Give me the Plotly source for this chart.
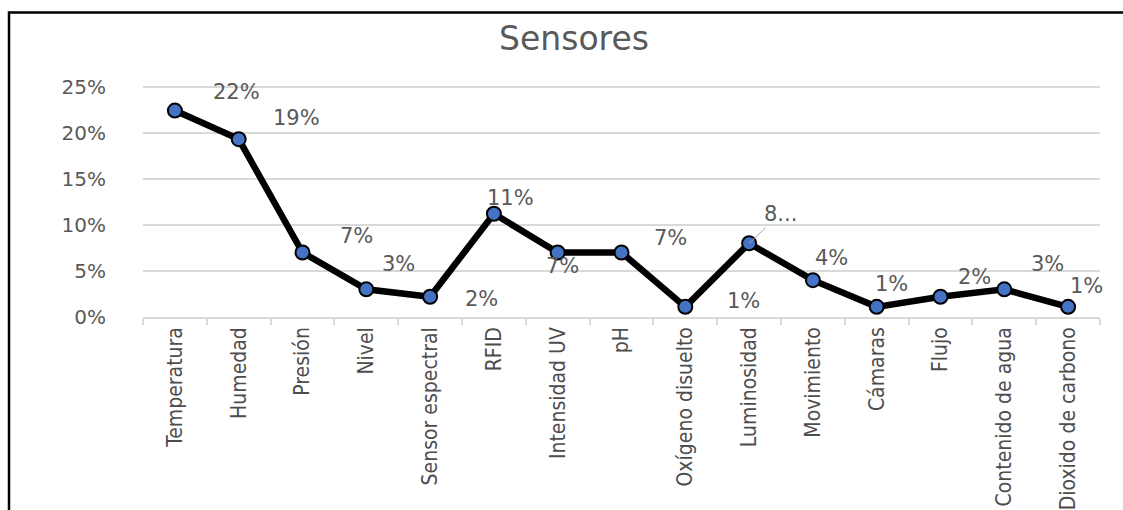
import plotly.graph_objects as go

categories = ["Temperatura", "Humedad", "Presión", "Nivel", "Sensor espectral", "RFID",
              "Intensidad UV", "pH", "Oxígeno disuelto", "Luminosidad", "Movimiento",
              "Cámaras", "Flujo", "Contenido de agua", "Dioxido de carbono"]
values = [22.4, 19.3, 7.0, 3.0, 2.2, 11.2, 7.0, 7.0, 1.1, 8.0, 4.0, 1.1, 2.2, 3.0, 1.1]
labels = ["22%", "19%", "7%", "3%", "2%", "11%", "7%", "7%", "1%", "8...", "4%", "1%", "2%", "3%", "1%"]
y_ticks = [0, 5, 10, 15, 20, 25]

# label offsets (pixels) relative to each point
label_dx = [62, 58, 54, 32, 51, 17, 5, 49, 58, 31, 19, 15, 34, 43, 18]
label_dy = [-19, -21, -16, -25, 2, -16, 14, -14, -6, -29, -22, -23, -20, -25, -21]

GRAY = "#595959"
GRID = "#d9d9d9"

fig = go.Figure()
fig.add_trace(go.Scatter(
    x=categories, y=values, mode="lines+markers",
    line=dict(color="black", width=6.5),
    marker=dict(symbol="circle", size=14, color="#4472C4", line=dict(color="black", width=2)),
    hoverinfo="x+y", showlegend=False,
))

annotations = []
for c, v, t, dx, dy in zip(categories, values, labels, label_dx, label_dy):
    if t.endswith("..."):
        annotations.append(dict(x=c, y=v, xref="x", yref="y", text=t, showarrow=True,
                                ax=dx, ay=dy, arrowhead=0, arrowwidth=1, arrowcolor="#a6a6a6",
                                standoff=0, startstandoff=0,
                                font=dict(family="DejaVu Sans", size=21, color=GRAY)))
    else:
        annotations.append(dict(x=c, y=v, xref="x", yref="y", text=t, showarrow=False,
                                xshift=dx, yshift=-dy,
                                font=dict(family="DejaVu Sans", size=21, color=GRAY)))

fig.update_layout(
    width=1123, height=510,
    margin=dict(l=143, r=23, t=82, b=193, autoexpand=False),
    paper_bgcolor="white", plot_bgcolor="white",
    title=dict(text="Sensores", x=574/1123, xanchor="center", y=1-38/510, yanchor="middle",
               xref="container", yref="container",
               font=dict(family="DejaVu Sans", size=33, color=GRAY)),
    xaxis=dict(type="category", tickangle=-90, showgrid=False, automargin=False,
               showline=True, linecolor=GRID, linewidth=1.5,
               ticks="outside", tickson="boundaries", ticklen=6, tickcolor=GRID, tickwidth=1.5,
               tickfont=dict(family="DejaVu Sans Condensed, Liberation Sans Narrow", size=21, color="#4d4d4d"),
               range=[-0.5, len(categories) - 0.5], fixedrange=True),
    yaxis=dict(range=[0, 25.5], tickvals=y_ticks, ticktext=[f"{v}%" for v in y_ticks],
               showgrid=True, gridcolor=GRID, gridwidth=1.5, zeroline=False, showline=False,
               ticks="", ticklabelstandoff=36, automargin=False,
               tickfont=dict(family="DejaVu Sans", size=20, color=GRAY), fixedrange=True),
    annotations=annotations,
    shapes=[dict(type="rect", xref="paper", yref="paper",
                 x0=(9 - 143) / 957, x1=1.2, y0=-1.2, y1=(317 - 12.5) / 235,
                 line=dict(color="black", width=2.5), fillcolor="rgba(0,0,0,0)", layer="above")],
)

fig.write_html("out.html")
